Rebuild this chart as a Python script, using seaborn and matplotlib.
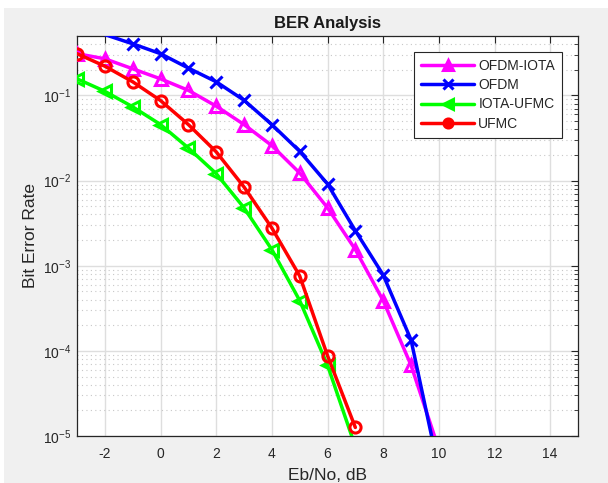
import numpy as np
import pandas as pd
import matplotlib
matplotlib.use("Agg")
import matplotlib.pyplot as plt
import seaborn as sns
from matplotlib.patches import Rectangle

# Eb/No sweep (dB)
ebno_db = [-3, -2, -1, 0, 1, 2, 3, 4, 5, 6, 7, 8, 9, 10]

# Simulated bit error rates per scheme
ber_ofdm_iota = [0.31, 0.27, 0.206, 0.157, 0.115, 0.075, 0.0456, 0.0258,
                 0.0123, 0.0048, 0.00155, 3.9e-4, 6.8e-5, 7e-6]
ber_ofdm = [0.66, 0.52, 0.405, 0.31, 0.21, 0.145, 0.088, 0.0456,
            0.0221, 0.00914, 0.00258, 7.8e-4, 1.35e-4, 4e-6]
ber_iota_ufmc = [0.157, 0.112, 0.0736, 0.0456, 0.0242, 0.0121, 0.0048,
                 0.00155, 3.9e-4, 6.8e-5, 7.5e-6]
ber_ufmc = [0.31, 0.221, 0.145, 0.0873, 0.0456, 0.0218, 0.00843,
            0.00278, 7.6e-4, 8.8e-5, 1.26e-5]

series_names = ["OFDM-IOTA", "OFDM", "IOTA-UFMC", "UFMC"]
series_values = [ber_ofdm_iota, ber_ofdm, ber_iota_ufmc, ber_ufmc]
series_colors = ["#ff00ff", "#0000ff", "#00ff00", "#ff0000"]
series_markers = ["^", "x", "<", "o"]

x_ticks = [-2, 0, 2, 4, 6, 8, 10, 12, 14]
y_ticks = [1e-5, 1e-4, 1e-3, 1e-2, 1e-1]
y_limits = (1e-5, 0.5)

rows = []
for name, vals in zip(series_names, series_values):
    for x, y in zip(ebno_db, vals):
        rows.append({"Eb/No": x, "BER": y, "Scheme": name})
df = pd.DataFrame(rows)

sns.set_style("white")
plt.rcParams["font.family"] = ["Liberation Sans", "DejaVu Sans"]

fig = plt.figure(figsize=(6.08, 4.83), dpi=100, facecolor="#f0f0f0")
# thin white margin along top and left of the window
fig.patches.append(Rectangle((0, 1 - 8 / 483), 1, 8 / 483, transform=fig.transFigure,
                             facecolor="white", edgecolor="none", zorder=-1))
fig.patches.append(Rectangle((0, 0), 4 / 608, 1, transform=fig.transFigure,
                             facecolor="white", edgecolor="none", zorder=-1))

ax = fig.add_axes([77 / 608, 1 - 436 / 483, (578 - 77) / 608, (436 - 36) / 483])
ax.set_facecolor("white")

sns.lineplot(data=df, x="Eb/No", y="BER", hue="Scheme",
             hue_order=series_names,
             palette=dict(zip(series_names, series_colors)),
             linewidth=2.5, ax=ax, zorder=3)

# hollow markers, only drawn where the point lies inside the y-range
for line, col, mk, vals in zip(ax.get_lines(), series_colors, series_markers, series_values):
    inside = [i for i, v in enumerate(vals) if y_limits[0] <= v <= y_limits[1]]
    line.set_marker(mk)
    line.set_markevery(inside)
    line.set_markersize(8 if mk != "x" else 9)
    line.set_markeredgewidth(2.2)
    line.set_markeredgecolor(col)
    line.set_markerfacecolor("none")

ax.set_yscale("log")
ax.set_xlim(-3, 15)
ax.set_ylim(*y_limits)
ax.set_xticks(x_ticks)
ax.set_xticklabels([str(t) for t in x_ticks])
ax.set_yticks(y_ticks)

ax.grid(True, which="major", color="#dedede", linewidth=1.0, zorder=0)
ax.grid(True, which="minor", axis="y", color="#c8c8c8", linestyle=(0, (1, 3)),
        linewidth=0.8, zorder=0)
ax.set_axisbelow(True)

ax.tick_params(which="both", direction="in", top=True, right=True,
               colors="#262626", labelsize=10, labelcolor="#262626")
ax.tick_params(which="major", length=5, width=0.8)
ax.tick_params(axis="x", which="major", pad=8)
ax.tick_params(axis="y", which="major", pad=4)
ax.tick_params(which="minor", length=3, width=0.6)
for sp in ax.spines.values():
    sp.set_color("#262626")
    sp.set_linewidth(0.9)

ax.set_title("BER Analysis", fontsize=12, fontweight="bold", color="#1a1a1a", pad=6)
ax.set_xlabel("Eb/No, dB", fontsize=12.5, color="#262626", labelpad=5)
ax.set_ylabel("Bit Error Rate", fontsize=12.5, color="#262626", labelpad=4)

handles, labels = ax.get_legend_handles_labels()
for h, col, mk in zip(handles, series_colors, series_markers):
    h.set_marker(mk)
    h.set_markersize(6.5)
    h.set_markeredgewidth(2.2)
    h.set_markeredgecolor(col)
    h.set_markerfacecolor(col)
    h.set_linewidth(2.5)
leg = ax.legend(handles, labels, loc="upper right",
                bbox_to_anchor=((562 - 77) / 501, (436 - 52) / 400),
                borderaxespad=0, frameon=True, fancybox=False, edgecolor="#262626",
                fontsize=10, handlelength=3.8, borderpad=0.5,
                labelspacing=0.38, handletextpad=0.3)
leg.get_frame().set_linewidth(0.8)
leg.get_frame().set_facecolor("white")
leg.get_frame().set_alpha(1)

fig.savefig("out.png", dpi=100, facecolor=fig.get_facecolor())
